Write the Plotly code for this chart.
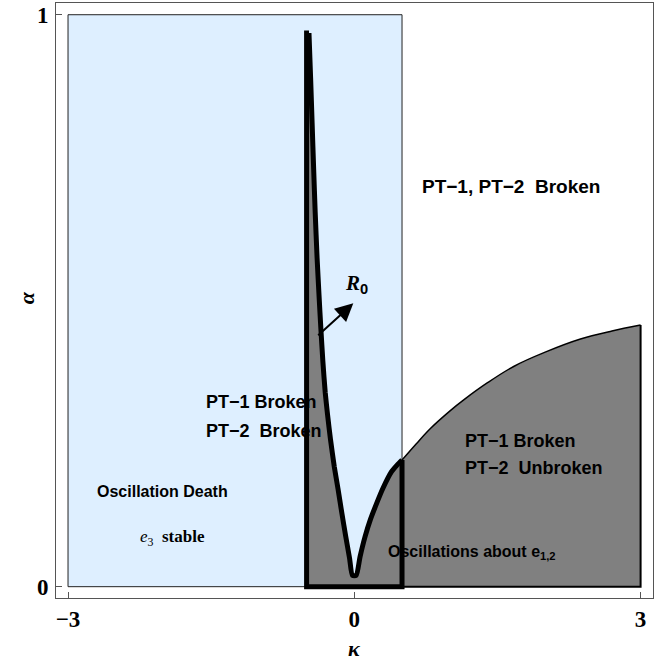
import plotly.graph_objects as go

# ---- data ----
# light-blue region (e3 stable): kappa range, alpha range
blue_k = [-3.0, 0.5]
blue_a = [0.0, 1.0]

# PT boundary box (thick outline)
box_k = [-0.5, 0.5]
box_top_alpha = 0.968

# left branch of R0 curve (kappa<0)
left_k = [-0.475, -0.458, -0.442, -0.426, -0.41, -0.39, -0.37, -0.35, -0.33, -0.305,
          -0.28, -0.25, -0.21, -0.17, -0.13, -0.09, -0.05, -0.02]
left_a = [0.968, 0.89, 0.81, 0.73, 0.655, 0.575, 0.51, 0.45, 0.395, 0.34,
          0.30, 0.258, 0.21, 0.17, 0.128, 0.088, 0.05, 0.02]

# right branch of R0 curve (0<kappa<0.5)
right_k = [0.02, 0.06, 0.112, 0.17, 0.235, 0.30, 0.39, 0.45, 0.5]
right_a = [0.02, 0.052, 0.087, 0.118, 0.146, 0.172, 0.201, 0.213, 0.2215]

# PT-2 boundary curve (kappa>0.5)
thin_k = [0.5, 0.65, 0.8, 1.0, 1.15, 1.4, 1.67, 2.0, 2.37, 2.7, 3.0]
thin_a = [0.2215, 0.25, 0.277, 0.307, 0.327, 0.357, 0.385, 0.41, 0.433, 0.447, 0.4575]

gray_right_k = 3.0

x_ticks = [-3, 0, 3]
x_ticktext = ["\u22123", "0", "3"]
y_ticks = [0, 1]
y_ticktext = ["0", "1"]

BLUE = "#DEEFFF"
GRAY = "#808080"

fig = go.Figure()

# blue rectangle
fig.add_trace(go.Scatter(
    x=[blue_k[0], blue_k[1], blue_k[1], blue_k[0], blue_k[0]],
    y=[blue_a[0], blue_a[0], blue_a[1], blue_a[1], blue_a[0]],
    mode="lines", fill="toself", fillcolor=BLUE,
    line=dict(color="#222222", width=1), hoverinfo="skip", showlegend=False))

# gray region
gx = [box_k[0], box_k[0]] + left_k + right_k + thin_k[1:] + [gray_right_k, box_k[0]]
gy = [0, box_top_alpha] + left_a + right_a + thin_a[1:] + [0, 0]
fig.add_trace(go.Scatter(x=gx, y=gy, mode="lines", fill="toself", fillcolor=GRAY,
                         line=dict(width=0, color=GRAY), hoverinfo="skip", showlegend=False))

# thin boundary curve
fig.add_trace(go.Scatter(x=thin_k, y=thin_a, mode="lines",
                         line=dict(color="black", width=1.5, shape="spline"),
                         hoverinfo="skip", showlegend=False))
# right edge and bottom of gray region
fig.add_trace(go.Scatter(x=[thin_k[-1], gray_right_k, box_k[1]], y=[thin_a[-1], 0, 0],
                         mode="lines", line=dict(color="black", width=2),
                         hoverinfo="skip", showlegend=False))

# thick outline: straight box part
fig.add_trace(go.Scatter(x=[left_k[0], box_k[0], box_k[0], box_k[1], box_k[1]],
                         y=[box_top_alpha, box_top_alpha, 0, 0, right_a[-1]],
                         mode="lines", line=dict(color="black", width=5),
                         hoverinfo="skip", showlegend=False))
# thick outline: R0 curve
fig.add_trace(go.Scatter(x=left_k + right_k, y=left_a + right_a, mode="lines",
                         line=dict(color="black", width=5, shape="spline", smoothing=0.6),
                         hoverinfo="skip", showlegend=False))

sans = dict(family="Liberation Sans", color="black")
serif = dict(family="Liberation Serif", color="black")
NB = "\u00a0"

ann = []
def txt(x, y, s, size, fam, xanchor="left"):
    f = dict(fam); f["size"] = size
    ann.append(dict(x=x, y=y, xref="x", yref="y", text=s, showarrow=False,
                    xanchor=xanchor, yanchor="middle", font=f))

txt(1.642, 0.7005, "<b>PT\u22121, PT\u22122" + NB + NB + "Broken</b>", 19, sans, "center")
txt(-1.577, 0.323, "<b>PT\u22121 Broken</b>", 18, sans)
txt(-1.577, 0.272, "<b>PT\u22122" + NB + NB + "Broken</b>", 18, sans)
txt(1.139, 0.2547, "<b>PT\u22121 Broken</b>", 18, sans)
txt(1.139, 0.2075, "<b>PT\u22122" + NB + NB + "Unbroken</b>", 18, sans)
txt(-2.717, 0.1656, "<b>Oscillation Death</b>", 16, sans)
txt(-2.27, 0.085, "<i>e</i><sub>3</sub>" + NB + NB + "<b>stable</b>", 17, serif)
txt(0.331, 0.059, "<b>Oscillations about e<sub>1,2</sub></b>", 16, sans)
txt(-0.118, 0.53, "<b><i>R</i></b><sub><b><span style='font-family:Liberation Sans'>0</span></b></sub>", 21, serif)

# arrow
ann.append(dict(x=-0.0105, y=0.4955, ax=-0.394, ay=0.437, xref="x", yref="y",
                axref="x", ayref="y", text="", showarrow=True, arrowhead=2,
                arrowsize=1.8, arrowwidth=2, arrowcolor="black"))

# axis titles
ann.append(dict(x=0, y=-0.0857, xref="x", yref="paper", text="<b><i>\u03ba</i></b>",
                showarrow=False, font=dict(family="Liberation Serif", size=22, color="black"),
                xanchor="center", yanchor="middle"))
ann.append(dict(x=-0.05, y=0.504, xref="paper", yref="paper", text="<b><i>\u03b1</i></b>",
                showarrow=False, textangle=-90,
                font=dict(family="Liberation Serif", size=22, color="black"),
                xanchor="center", yanchor="middle"))

fig.update_layout(
    width=666, height=662,
    margin=dict(l=56, r=13, t=3, b=64),
    paper_bgcolor="white", plot_bgcolor="white",
    annotations=ann, showlegend=False,
)
fig.update_xaxes(range=[-3.126, 3.13], tickvals=x_ticks, ticktext=x_ticktext,
                 ticks="inside", ticklen=6, tickcolor="#555", showgrid=False, zeroline=False,
                 showline=True, linecolor="#555", linewidth=1, mirror=True,
                 tickfont=dict(family="Liberation Serif", size=23, color="black", weight="bold"),
                 ticklabelstandoff=0)
fig.update_yaxes(range=[-0.0198, 1.0205], tickvals=y_ticks, ticktext=y_ticktext,
                 ticks="inside", ticklen=6, tickcolor="#555", showgrid=False, zeroline=False,
                 showline=True, linecolor="#555", linewidth=1, mirror=True,
                 tickfont=dict(family="Liberation Serif", size=23, color="black", weight="bold"),
                 ticklabelstandoff=2)

fig.write_html("out.html")
